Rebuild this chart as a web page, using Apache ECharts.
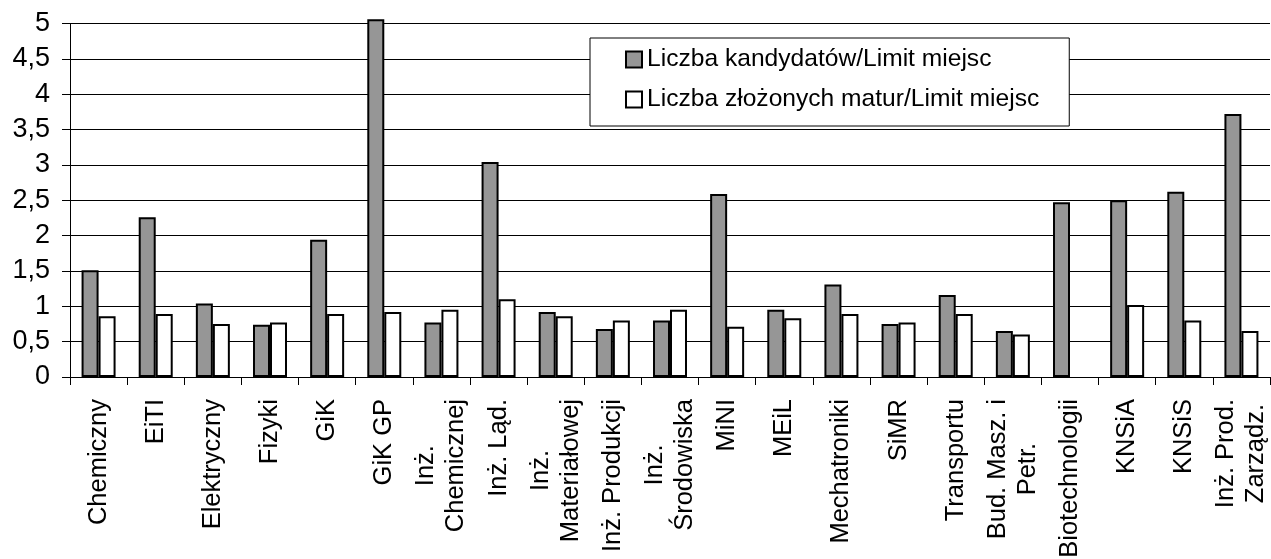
<!DOCTYPE html>
<html>
<head>
<meta charset="utf-8">
<script src="https://cdn.jsdelivr.net/npm/echarts@6/dist/echarts.min.js"></script>
<style>
html,body{margin:0;padding:0;background:#fff;}
#chart{width:1271px;height:559px;}
</style>
</head>
<body>
<div id="chart"></div>
<script>
const categories = ['Chemiczny','EiTI','Elektryczny','Fizyki','GiK','GiK GP','Inż.\nChemicznej','Inż. Ląd.','Inż.\nMateriałowej','Inż. Produkcji','Inż.\nŚrodowiska','MiNI','MEiL','Mechatroniki','SiMR','Transportu','Bud. Masz. i\nPetr.','Biotechnologii','KNSiA','KNSiS','Inż. Prod.\nZarządz.'];
const seriesNames = ['Liczba kandydatów/Limit miejsc','Liczba złożonych matur/Limit miejsc'];
const kandydaci = [1.51, 2.26, 1.04, 0.74, 1.94, 5.06, 0.77, 3.04, 0.92, 0.68, 0.80, 2.59, 0.95, 1.31, 0.75, 1.16, 0.65, 2.47, 2.50, 2.62, 3.72];
const matury = [0.86, 0.89, 0.75, 0.77, 0.89, 0.92, 0.95, 1.10, 0.86, 0.80, 0.95, 0.71, 0.83, 0.89, 0.77, 0.89, 0.60, null, 1.02, 0.80, 0.65];
const yTickLabels = ['0','0,5','1','1,5','2','2,5','3','3,5','4','4,5','5'];

const FONT = '"Liberation Sans", Arial, sans-serif';
const chart = echarts.init(document.getElementById('chart'), null, {renderer:'canvas'});
chart.setOption({
  animation: false,
  backgroundColor: '#fff',
  grid: {left: 70, right: 1, top: 23.5, bottom: 182, containLabel: false, outerBoundsMode: 'none'},
  legend: {
    orient: 'vertical',
    left: 590, top: 38,
    padding: [9, 30, 14, 35],
    itemGap: 15,
    itemWidth: 16, itemHeight: 16,
    icon: 'rect',
    backgroundColor: '#fff',
    borderColor: '#000', borderWidth: 1,
    textStyle: {fontFamily: FONT, fontSize: 24.6, color: '#000'},
    data: seriesNames
  },
  xAxis: {
    type: 'category',
    data: categories,
    axisLine: {show: true, lineStyle: {color: '#000', width: 1}},
    axisTick: {show: true, length: 8, lineStyle: {color: '#000'}, alignWithLabel: false},
    axisLabel: {
      interval: 0, rotate: 90, margin: 22,
      fontFamily: FONT, fontSize: 25.5, color: '#000', lineHeight: 30,
      formatter: function (v) { return v.split('\n').map(s => '{c|' + s + '}').join('\n'); },
      rich: {c: {align: 'center', fontFamily: FONT, fontSize: 25.5, color: '#000', lineHeight: 30}}
    },
    splitLine: {show: false}
  },
  yAxis: {
    type: 'value', min: 0, max: 5, interval: 0.5,
    axisLine: {show: true, lineStyle: {color: '#000', width: 1}},
    axisTick: {show: true, length: 8, lineStyle: {color: '#000'}},
    axisLabel: {
      margin: 20, fontFamily: FONT, fontSize: 27, color: '#000',
      formatter: function (v, i) { return yTickLabels[i]; }
    },
    splitLine: {show: true, lineStyle: {color: '#000', width: 1}}
  },
  series: [
    {
      name: seriesNames[0], type: 'bar', data: kandydaci,
      barWidth: 17, barGap: '0%', clip: false,
      itemStyle: {color: '#969696', borderColor: '#000', borderWidth: 2}
    },
    {
      name: seriesNames[1], type: 'bar', data: matury,
      barWidth: 17, barGap: '0%', clip: false,
      itemStyle: {color: '#fff', borderColor: '#000', borderWidth: 2}
    }
  ]
});
</script>
</body>
</html>
